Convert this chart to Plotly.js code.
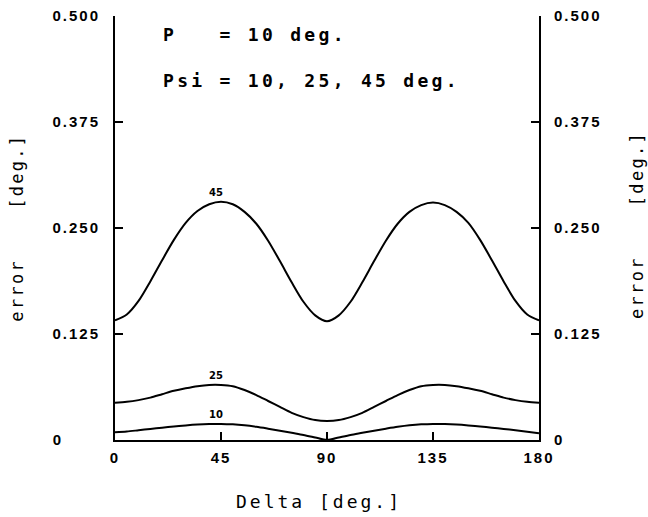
<!DOCTYPE html>
<html>
<head>
<meta charset="utf-8">
<script src="https://cdn.plot.ly/plotly-3.0.1.min.js"></script>
<style>
  html, body { margin: 0; padding: 0; background: #fff; }
  .xtick text, .ytick text, .y2tick text { letter-spacing: 2px; }
</style>
</head>
<body>
<div id="chart" style="width:648px;height:517px;"></div>
<script>
// Delta [deg.]
const delta = [0,5,10,15,20,25,30,35,40,45,50,55,60,65,70,75,80,85,90,95,100,105,110,115,120,125,130,135,140,145,150,155,160,165,170,175,180];
// error [deg.] for Psi = 45, 25, 10 deg.
const err45 = [0.141,0.148,0.164,0.187,0.212,0.236,0.256,0.270,0.278,0.281,0.278,0.269,0.255,0.235,0.211,0.186,0.163,0.147,0.140,0.147,0.163,0.186,0.211,0.235,0.255,0.269,0.277,0.280,0.277,0.269,0.256,0.236,0.212,0.187,0.164,0.148,0.141];
const err25 = [0.044,0.045,0.047,0.050,0.054,0.058,0.061,0.0635,0.065,0.065,0.0635,0.059,0.053,0.046,0.039,0.032,0.027,0.0235,0.0225,0.0235,0.027,0.032,0.039,0.046,0.053,0.059,0.0635,0.065,0.065,0.0635,0.061,0.058,0.054,0.050,0.047,0.045,0.044];
const err10 = [0.009,0.010,0.0115,0.013,0.0145,0.016,0.0172,0.0182,0.0188,0.019,0.0185,0.0173,0.0155,0.0133,0.011,0.0085,0.006,0.003,0.000,0.003,0.006,0.0085,0.011,0.0133,0.0155,0.0173,0.0185,0.019,0.0188,0.0182,0.0172,0.016,0.0145,0.013,0.0115,0.0098,0.008];
const curveLabels = ['45','25','10'];

const xTickVals = [0,45,90,135,180];
const xTickText = ['0','45','90','135','180'];
const yTickVals = [0,0.125,0.25,0.375,0.5];
const yTickTextLeft = ['0\u00a0\u00a0\u00a0\u00a0\u00a0\u00a0','0.125','0.250','0.375','0.500'];
const yTickTextRight = ['0','0.125','0.250','0.375','0.500'];

const mono = 'DejaVu Sans Mono, monospace';
const sans = 'Liberation Sans, Arial, sans-serif';
const series = [err45, err25, err10];

const traces = series.map(s => ({
  x: delta, y: s, type: 'scatter', mode: 'lines',
  line: {color: '#000', width: 2, shape: 'spline', smoothing: 0.8},
  hoverinfo: 'skip', xaxis: 'x', yaxis: 'y'
}));
traces.push({x: delta, y: err10, type: 'scatter', mode: 'lines',
  line: {color: 'rgba(0,0,0,0)', width: 0}, hoverinfo: 'skip', xaxis: 'x', yaxis: 'y2'});

const tickFont = {family: sans, size: 15, color: '#000', weight: 'bold'};
const yCommon = {
  range: [0, 0.5], tickmode: 'array', tickvals: yTickVals,
  ticks: 'inside', ticklen: 8, tickwidth: 2, tickcolor: '#000',
  showline: true, linewidth: 2, linecolor: '#000',
  showgrid: false, zeroline: false, tickfont: tickFont,
  ticklabelstandoff: 10, fixedrange: true
};

const annotations = [
  {text: '<span style="letter-spacing:3.3px">P\u00a0\u00a0\u00a0= 10 deg.</span>',
   xref: 'paper', yref: 'paper', x: 0.108, y: 0.9575, xanchor: 'left', yanchor: 'middle',
   showarrow: false, font: {family: mono, size: 18, color: '#000', weight: 'bold'}},
  {text: '<span style="letter-spacing:3.3px">Psi = 10, 25, 45 deg.</span>',
   xref: 'paper', yref: 'paper', x: 0.108, y: 0.8467, xanchor: 'left', yanchor: 'middle',
   showarrow: false, font: {family: mono, size: 18, color: '#000', weight: 'bold'}},
  {text: '<span style="letter-spacing:3px">Delta [deg.]</span>',
   xref: 'paper', yref: 'paper', x: 0.482, y: -0.146, xanchor: 'center', yanchor: 'middle',
   showarrow: false, font: {family: mono, size: 18, color: '#000'}},
  {text: '<span style="letter-spacing:2.3px">error\u00a0\u00a0\u00a0\u00a0[deg.]</span>',
   xref: 'paper', yref: 'paper', x: -0.231, y: 0.501, xanchor: 'center', yanchor: 'middle',
   textangle: -90, showarrow: false, font: {family: mono, size: 17, color: '#000'}},
  {text: '<span style="letter-spacing:2.3px">error\u00a0\u00a0\u00a0\u00a0[deg.]</span>',
   xref: 'paper', yref: 'paper', x: 1.231, y: 0.507, xanchor: 'center', yanchor: 'middle',
   textangle: -90, showarrow: false, font: {family: mono, size: 17, color: '#000'}}
];
series.forEach((s, i) => {
  annotations.push({text: curveLabels[i], xref: 'x', yref: 'y', x: 43, y: Math.max(...s),
    yshift: 9, xanchor: 'center', yanchor: 'middle', showarrow: false,
    font: {family: 'DejaVu Sans', size: 10, color: '#000', weight: 'bold'}});
});

const layout = {
  width: 648, height: 517,
  margin: {l: 115, r: 109, t: 16, b: 77, pad: 0},
  paper_bgcolor: '#fff', plot_bgcolor: '#fff',
  showlegend: false,
  xaxis: {
    range: [0, 180], tickmode: 'array', tickvals: xTickVals, ticktext: xTickText,
    ticks: 'inside', ticklen: 8, tickwidth: 2, tickcolor: '#000',
    showline: true, linewidth: 2, linecolor: '#000',
    showgrid: false, zeroline: false, tickfont: tickFont,
    ticklabelstandoff: 3, fixedrange: true
  },
  yaxis: Object.assign({}, yCommon, {ticktext: yTickTextLeft, side: 'left'}),
  yaxis2: Object.assign({}, yCommon, {ticktext: yTickTextRight, side: 'right', overlaying: 'y'}),
  annotations: annotations
};

Plotly.newPlot('chart', traces, layout, {staticPlot: true, displayModeBar: false});
</script>
</body>
</html>
